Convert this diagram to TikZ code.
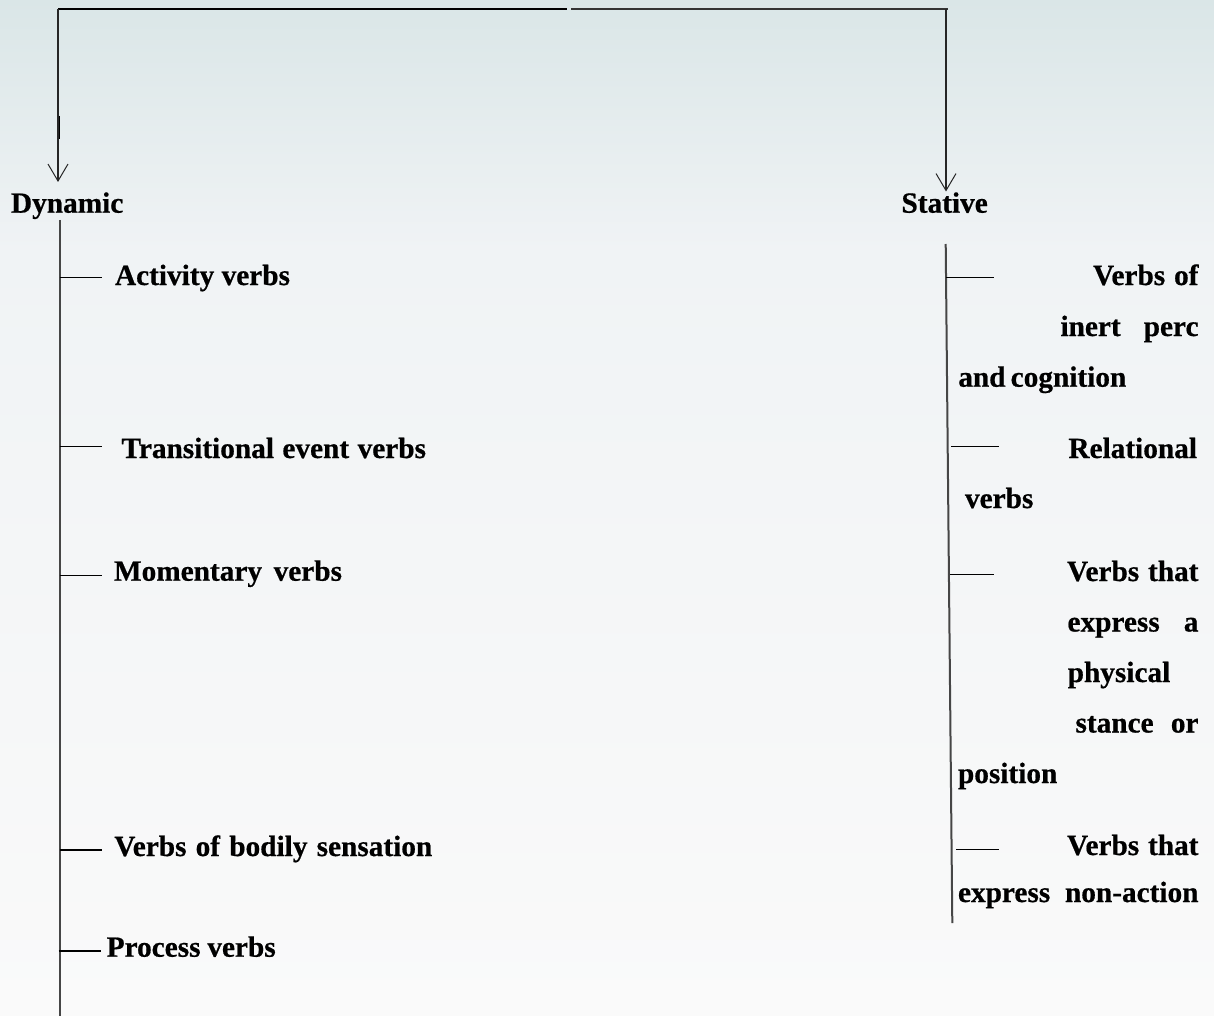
\documentclass[tikz,border=0pt]{standalone}
\usepackage{fontspec}
\setmainfont{Liberation Serif}[BoldFeatures={FakeBold=0.6}]
\usetikzlibrary{arrows.meta}
\definecolor{bgtop}{RGB}{218,230,231}
\definecolor{bgmid}{RGB}{240,243,245}
\definecolor{bgbot}{RGB}{250,250,250}
\definecolor{trunkgray}{RGB}{70,70,70}
\newcommand\jline[2]{\makebox[#1][s]{#2}}
\tikzset{
  lbl/.style={inner sep=0pt, outer sep=0pt, font=\bfseries\fontsize{29.3}{34}\selectfont, text=black},
  lblL/.style={lbl, anchor=base west},
  lblR/.style={lbl, anchor=base east},
  trunk/.style={draw=trunkgray, line width=2pt},
  branch/.style={draw=black, line width=1.3pt},
  arrowline/.style={draw=black!85, line width=1.3pt, -{Straight Barb[length=17pt,width=20pt,line width=1pt]}},
}
\begin{document}
\begin{tikzpicture}[x=1pt,y=-1pt]
\useasboundingbox (0,0) rectangle (1214,1016);
\shade[top color=bgtop, bottom color=bgmid] (0,0) rectangle (1214,250);
\shade[top color=bgmid, bottom color=bgbot] (0,250) rectangle (1214,1016);

% top connector
\coordinate (tl) at (58,9);
\coordinate (gapL) at (567,9);
\coordinate (gapR) at (571,9);
\coordinate (tr) at (948,9);
\coordinate (trv) at (946,9);
\coordinate (tipL) at (58,182);
\coordinate (tipR) at (946,191.5);
\draw[draw=black, line width=2.2pt] (tl) -- (gapL);
\draw[draw=black!80, line width=1.4pt] (gapR) -- (tr);
\draw[arrowline] (tl) -- (tipL);
\coordinate (nickA) at (59.3,116);
\coordinate (nickB) at (59.3,139);
\draw[draw=black, line width=1.6pt] (nickA) -- (nickB);
\draw[arrowline] (trv) -- (tipR);

% headings
\node[lblL] (dyn) at (11,212.7) {\jline{110.5pt}{Dynamic}};
\node[lblL] (stat) at (901.5,212.7) {\jline{85pt}{Stative}};

% left trunk
\coordinate (lt0) at (59.5,220);
\coordinate (lt1) at (59.5,1016);
\draw[trunk] (lt0) -- (lt1);

% left branches
\coordinate (la1) at (59.5,277.7);  \coordinate (la2) at (102,277.7);
\coordinate (lb1) at (59.5,446.7);  \coordinate (lb2) at (102,446.7);
\coordinate (lc1) at (59.5,575.7);  \coordinate (lc2) at (102,575.7);
\coordinate (ld1) at (59.5,850);    \coordinate (ld2) at (102,850);
\coordinate (le1) at (58.5,951);    \coordinate (le2) at (100.5,951);
\draw[branch] (la1) -- (la2);
\draw[branch] (lb1) -- (lb2);
\draw[branch] (lc1) -- (lc2);
\draw[branch] (ld1) -- (ld2);
\draw[branch] (le1) -- (le2);

\node[lblL] (act) at (115,285) {\jline{175pt}{Activity verbs}};
\node[lblL] (trans) at (121.5,458) {\jline{304.5pt}{Transitional event verbs}};
\node[lblL] (mom) at (114,580.7) {\jline{228pt}{Momentary verbs}};
\node[lblL] (bod) at (114.3,856) {\jline{318pt}{Verbs of bodily sensation}};
\node[lblL] (proc) at (106.7,956.7) {\jline{169pt}{Process verbs}};

% right trunk
\coordinate (rt0) at (945.7,244);
\coordinate (rt1) at (952.3,923);
\draw[trunk] (rt0) -- (rt1);

% right branches
\coordinate (ra1) at (946,277.7);  \coordinate (ra2) at (994,277.7);
\coordinate (rb1) at (951,446.7);  \coordinate (rb2) at (999,446.7);
\coordinate (rc1) at (950,574.3);  \coordinate (rc2) at (993.5,574.3);
\coordinate (rd1) at (956,849.3);  \coordinate (rd2) at (999,849.3);
\draw[branch] (ra1) -- (ra2);
\draw[branch] (rb1) -- (rb2);
\draw[branch] (rc1) -- (rc2);
\draw[branch] (rd1) -- (rd2);

% right texts
\node[lblR] (s1a) at (1198.5,285) {\jline{105.5pt}{Verbs of}};
\node[lblR] (s1b) at (1198.5,336) {\jline{138pt}{inert perc}};
\node[lblL] (s1c) at (958.3,386.7) {\jline{168pt}{and cognition}};
\node[lblR] (s2a) at (1197,458) {Relational};
\node[lblL] (s2b) at (965,508) {verbs};
\node[lblR] (s3a) at (1198.5,581) {\jline{131.5pt}{Verbs that}};
\node[lblR] (s3b) at (1198.5,631.5) {\jline{131pt}{express a}};
\node[lblL] (s3c) at (1067.7,682) {physical};
\node[lblR] (s3d) at (1198.5,732.5) {\jline{123pt}{stance or}};
\node[lblL] (s3e) at (958,783) {position};
\node[lblR] (s4a) at (1198.5,855) {\jline{131.5pt}{Verbs that}};
\node[lblR] (s4b) at (1198.5,902) {\jline{240.5pt}{express non-action}};
\end{tikzpicture}
\end{document}
